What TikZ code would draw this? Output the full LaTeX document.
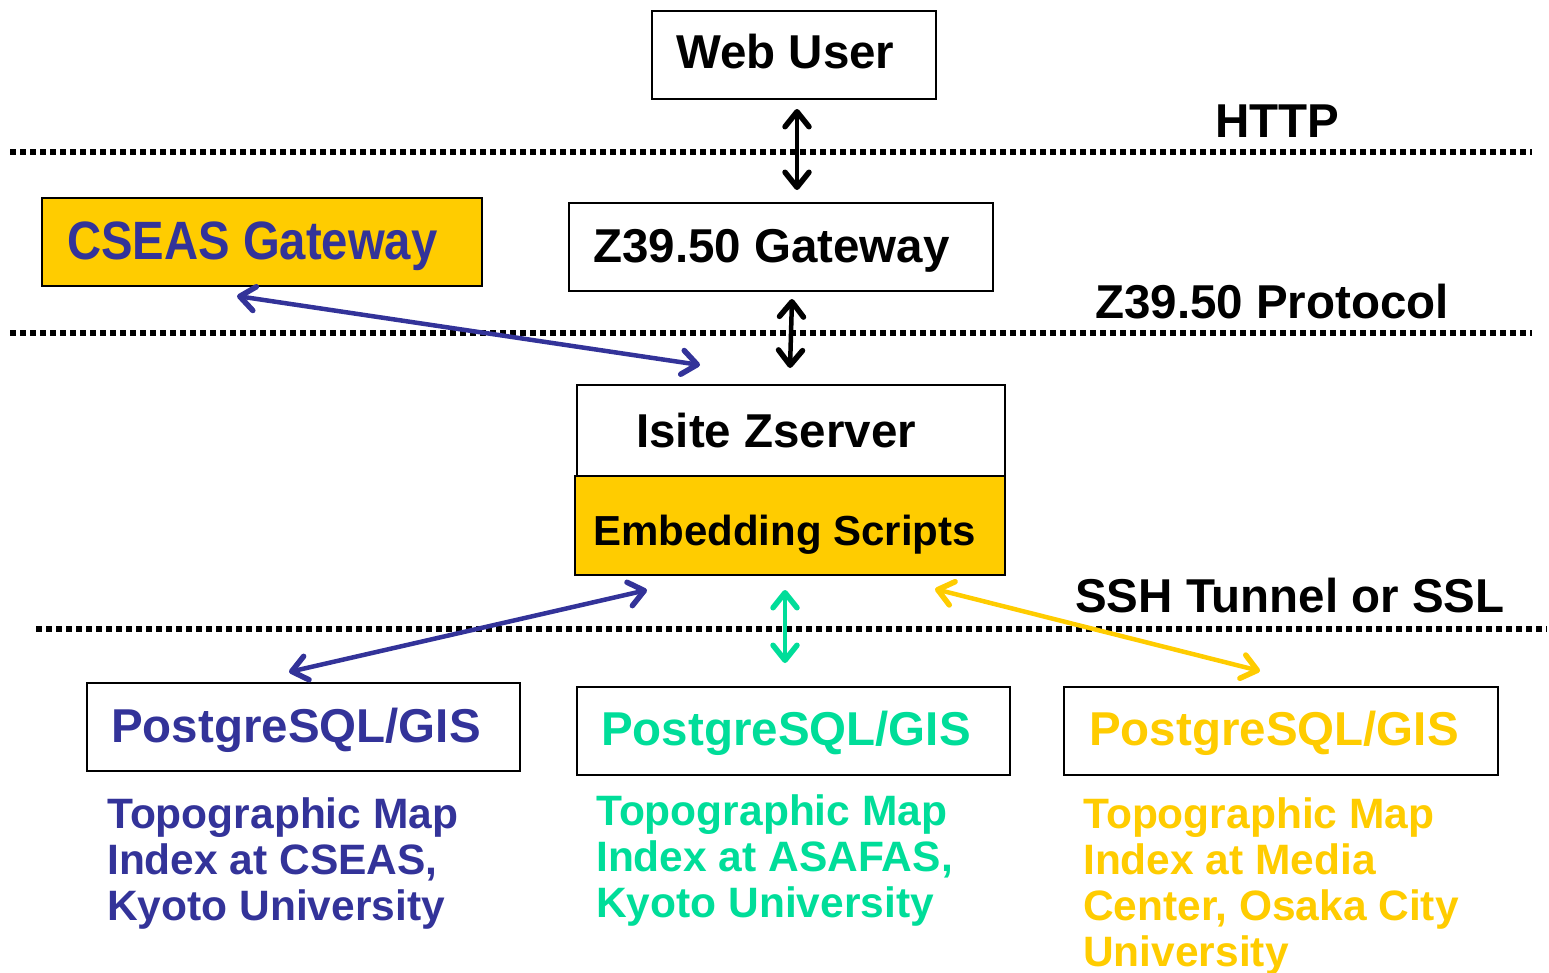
\documentclass[tikz,border=0pt]{standalone}
\usepackage{fontspec}
\setmainfont{Liberation Sans}
\usetikzlibrary{arrows.meta}
\definecolor{cblue}{HTML}{333399}
\definecolor{cyel}{HTML}{FFCC00}
\definecolor{cgreen}{HTML}{00DD99}
\begin{document}
\begin{tikzpicture}[x=1pt,y=-1pt,
  box/.style={draw=black,line width=2.4pt,inner sep=0pt,anchor=north west},
  txt/.style={inner sep=0pt,anchor=base west,font=\fontsize{47.5}{50}\selectfont\bfseries},
  small/.style={inner sep=0pt,anchor=north west,align=left,font=\fontsize{42.5}{46}\selectfont\bfseries},
  dotline/.style={line width=5.5pt,dash pattern=on 5.5pt off 4.5pt},
  barb/.tip={Straight Barb[length=15pt,width=24pt,line width=5.5pt,line cap=round,line join=round]},
  conn/.style={barb-barb,line width=4.5pt,line cap=round}]
\useasboundingbox (0,0) rectangle (1549,972);
% boxes
\node[box,minimum width=284pt,minimum height=88pt] (web) at (651,10) {};
\node[box,minimum width=424pt,minimum height=88pt] (zgw) at (568,202) {};
\node[box,fill=cyel,minimum width=440pt,minimum height=88pt] (cseas) at (41,197) {};
\node[box,minimum width=428pt,minimum height=91pt] (isite) at (576,384) {};
\node[box,fill=cyel,minimum width=430pt,minimum height=99pt] (embed) at (574,475) {};
\node[box,minimum width=433pt,minimum height=88pt] (pg1) at (86,682) {};
\node[box,minimum width=433pt,minimum height=88pt] (pg2) at (576,686) {};
\node[box,minimum width=434pt,minimum height=88pt] (pg3) at (1063,686) {};
% box texts
\node[txt] (tweb) at (676,68) {Web User};
\node[txt] (tzgw) at (593,262) {Z39.50 Gateway};
\node[txt,text=cblue] (tcseas) at (67,259) {\fontsize{54}{58}\selectfont\scalebox{0.875}[1]{CSEAS Gateway}};
\node[txt] (tisite) at (636,447) {Isite Zserver};
\node[txt,font=\fontsize{42}{46}\selectfont\bfseries] (tembed) at (593,545) {Embedding Scripts};
\node[txt,text=cblue] (tpg1) at (111,742) {PostgreSQL/GIS};
\node[txt,text=cgreen] (tpg2) at (601,745) {PostgreSQL/GIS};
\node[txt,text=cyel] (tpg3) at (1089,745) {PostgreSQL/GIS};
% layer labels
\node[txt] (lhttp) at (1215,137) {HTTP};
\node[txt] (lz) at (1095,318) {Z39.50 Protocol};
\node[txt] (lssh) at (1075,612) {SSH Tunnel or SSL};
% descriptions
\node[small,text=cblue] (d1) at (107,797) {Topographic Map\\Index at CSEAS,\\Kyoto University};
\node[small,text=cgreen] (d2) at (596,794) {Topographic Map\\Index at ASAFAS,\\Kyoto University};
\node[small,text=cyel] (d3) at (1083,797) {Topographic Map\\Index at Media\\Center, Osaka City\\University};
% dotted lines
\coordinate (h1a) at (10,152); \coordinate (h1b) at (1532,152);
\coordinate (h2a) at (10,333); \coordinate (h2b) at (1532,333);
\coordinate (h3a) at (36,629); \coordinate (h3b) at (1547,629);
\draw[dotline] (h1a) -- (h1b);
\draw[dotline] (h2a) -- (h2b);
\draw[dotline] (h3a) -- (h3b);
% connector end points
\coordinate (a1) at (797,109); \coordinate (a2) at (797,190);
\coordinate (b1) at (792,299); \coordinate (b2) at (790,368);
\coordinate (c1) at (237,296); \coordinate (c2) at (700,365);
\coordinate (e1) at (647,590); \coordinate (e2) at (289,672);
\coordinate (f1) at (785,590); \coordinate (f2) at (785,663);
\coordinate (g1) at (935,589); \coordinate (g2) at (1260,671);
\draw[conn,black] (a1) -- (a2);
\draw[conn,black] (b1) -- (b2);
\draw[conn,cblue] (c1) -- (c2);
\draw[conn,cblue] (e1) -- (e2);
\draw[conn,cgreen] (f1) -- (f2);
\draw[conn,cyel] (g1) -- (g2);
\end{tikzpicture}
\end{document}
